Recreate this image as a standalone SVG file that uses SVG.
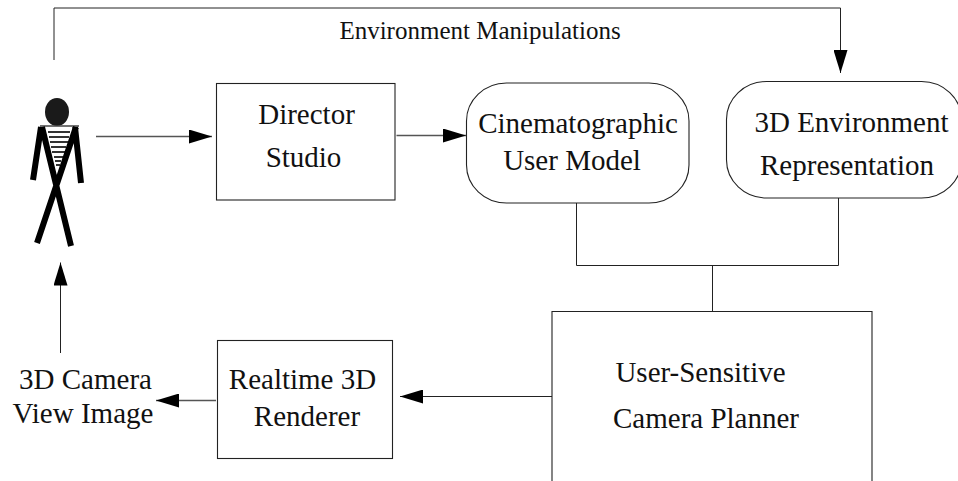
<svg xmlns="http://www.w3.org/2000/svg" width="958" height="481" viewBox="0 0 958 481">
<style>
text{font-family:"Liberation Serif","Times New Roman",serif;fill:#111;text-anchor:middle;font-size:29px}
.box{fill:#fff;stroke:#222;stroke-width:1.1}
.ln{fill:none;stroke:#222;stroke-width:1}
.g{fill:none;stroke:#555;stroke-width:1.3}
.limb{stroke:#000;stroke-width:6;fill:none}
</style>
<defs>
<marker id="ah" markerUnits="userSpaceOnUse" markerWidth="24" markerHeight="14" refX="23" refY="7" orient="auto"><path d="M0 0L23 7L0 14Z" fill="#000"/></marker>
</defs>
<rect width="958" height="481" fill="#fff"/>
<g id="connectors">
<path class="ln" d="M54 60V8H840.500V73" marker-end="url(#ah)"/>
<path class="g" d="M96 136.500H212" marker-end="url(#ah)"/>
<path class="g" d="M396.500 135.500H466" marker-end="url(#ah)"/>
<path class="ln" d="M576.500 203V265.500H838.500V198"/>
<path class="ln" d="M712.500 265.500V311"/>
<path class="ln" d="M552 396.500H400" marker-end="url(#ah)"/>
<path class="g" d="M216 400.500H156" marker-end="url(#ah)"/>
<path class="ln" d="M60.500 353V262.500" marker-end="url(#ah)"/>
</g>
<g id="person">
<ellipse cx="57" cy="112" rx="12" ry="14" fill="#1a1a1a"/>
<path d="M48 127H72L59 172Z" fill="#fff"/>
<path d="M48 132H70M49 137H69M50 142H68M51 147H66M52 152H65M54 157H63M55 161H61M56 165H60" stroke="#333" stroke-width="2" fill="none"/>
<path d="M40 126H79" stroke="#444" stroke-width="1.500"/>
<path class="limb" d="M41 127L33 180M75 127L81 183M42 127L71 246M76 127L37 243"/>
</g>
<g id="director-studio">
<rect class="box" x="216.500" y="83.500" width="178.500" height="116.500"/>
<text x="306.500" y="124">Director</text><text x="303.500" y="167">Studio</text>
</g>
<g id="cinematographic-user-model">
<rect class="box" x="466.500" y="83" width="222.500" height="120" rx="40" ry="38"/>
<text x="578" y="133">Cinematographic</text><text x="572" y="170">User Model</text>
</g>
<g id="environment-representation">
<rect class="box" x="726.500" y="81.500" width="235" height="116.500" rx="40" ry="38"/>
<text x="851.500" y="132">3D Environment</text><text x="847" y="175">Representation</text>
</g>
<g id="camera-planner">
<path class="box" d="M552 481V311.500H872V481"/>
<text x="700.500" y="382">User-Sensitive</text><text x="706" y="428">Camera Planner</text>
</g>
<g id="renderer">
<rect class="box" x="217.500" y="340.500" width="175" height="118"/>
<text x="302.500" y="389">Realtime 3D</text><text x="307" y="426">Renderer</text>
</g>
<g id="camera-view-image">
<text x="85.500" y="389">3D Camera</text><text x="83" y="423">View Image</text>
</g>
<text x="480" y="39" style="font-size:25px">Environment Manipulations</text>
</svg>
